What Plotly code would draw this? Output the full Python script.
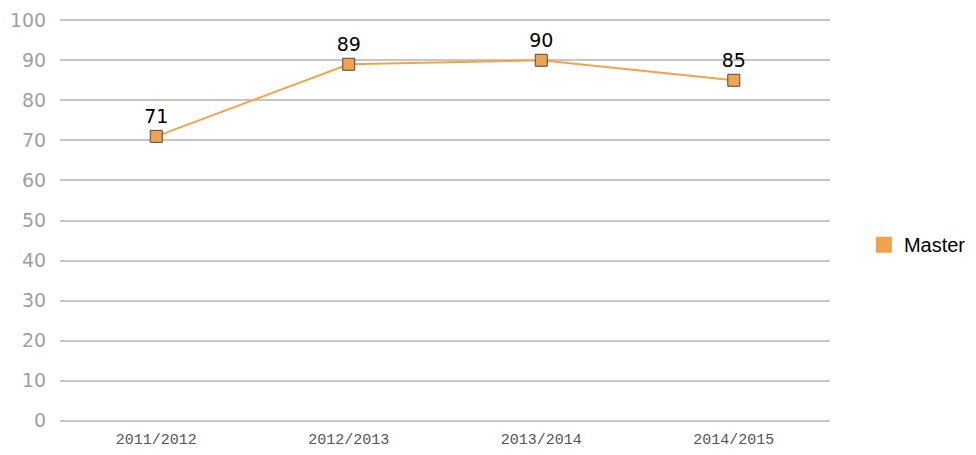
import plotly.graph_objects as go

categories = ["2011/2012", "2012/2013", "2013/2014", "2014/2015"]
master = [71, 89, 90, 85]
y_ticks = [0, 10, 20, 30, 40, 50, 60, 70, 80, 90, 100]

orange = "#F0A34E"

fig = go.Figure()
fig.add_trace(go.Scatter(
    x=categories, y=master, mode="lines+markers+text",
    text=[str(v) for v in master], textposition="top center",
    textfont=dict(family="DejaVu Sans", size=19, color="#000000"),
    line=dict(color=orange, width=2),
    marker=dict(symbol="square", size=12, color=orange, line=dict(color="#4a4a4a", width=1)),
    showlegend=False, cliponaxis=False,
))
fig.add_trace(go.Scatter(
    x=[None], y=[None], mode="markers", name="Master",
    marker=dict(symbol="square", size=18, color=orange, line=dict(width=0)),
))

fig.update_layout(
    width=976, height=455,
    margin=dict(l=52, r=154, t=11, b=41, autoexpand=False),
    paper_bgcolor="white", plot_bgcolor="white",
    legend=dict(x=1.044, y=0.44, yanchor="middle", xanchor="left",
                font=dict(family="Liberation Sans", size=20, color="#000000")),
    xaxis=dict(type="category", range=[-0.5, 3.5], showgrid=False, zeroline=False,
               showline=False, ticks="", automargin=False, ticklabelstandoff=6,
               tickfont=dict(family="Liberation Mono", size=15, color="#555555")),
    yaxis=dict(range=[-0.3, 100.3], tickvals=y_ticks, showgrid=True, gridcolor="#C6C6C6",
               gridwidth=2, zeroline=False, showline=False, ticks="outside", ticklen=9,
               tickcolor="rgba(0,0,0,0)", automargin=False,
               tickfont=dict(family="DejaVu Sans", size=19, color="#A0A0A0")),
)
fig.write_html("out.html")
